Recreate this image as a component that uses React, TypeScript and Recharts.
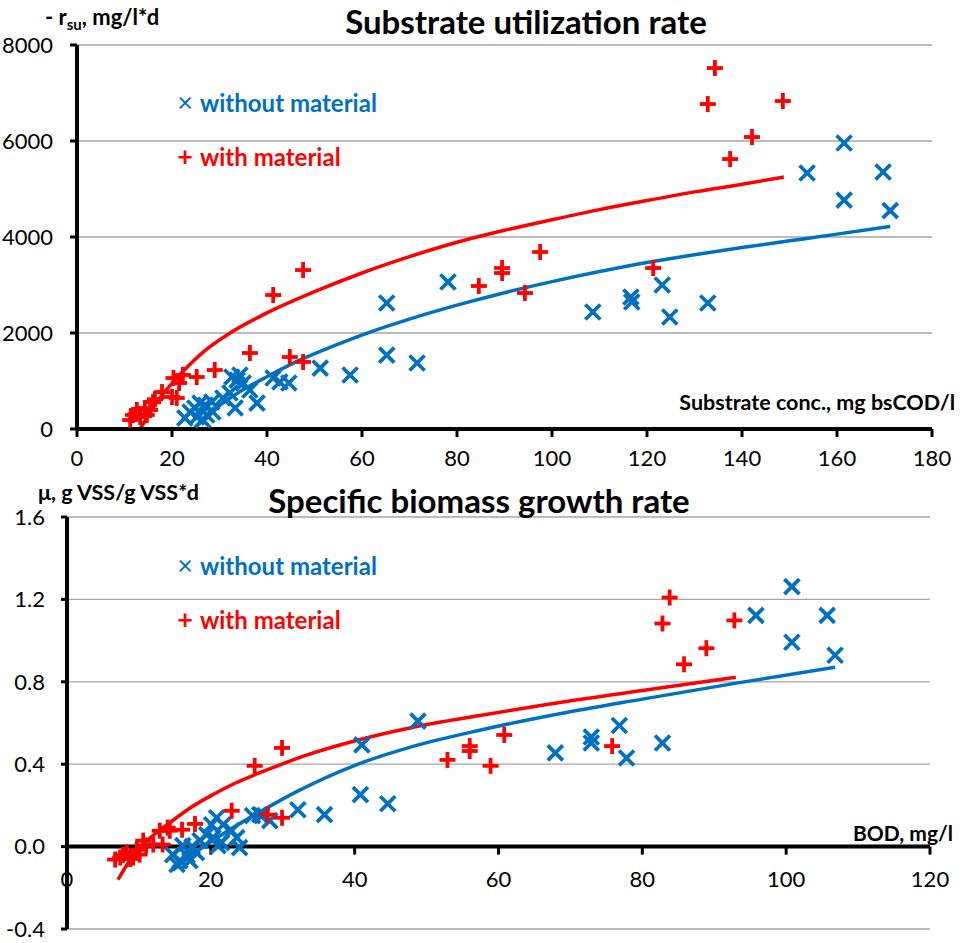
import React from "react";
import {
  ComposedChart,
  Scatter,
  Line,
  XAxis,
  YAxis,
  CartesianGrid,
  ReferenceLine,
  ReferenceDot,
} from "recharts";

const BLUE = "#0070C0";
const RED = "#FF0000";
const FONT = "Lato, 'Open Sans', sans-serif";

// ---- top chart: substrate utilization rate ----
const rsuXTicks = [0, 20, 40, 60, 80, 100, 120, 140, 160, 180];
const rsuYTicks = [0, 2000, 4000, 6000, 8000];

const rsuWithout = [
  { x: 22.7, y: 229 }, { x: 23.8, y: 354 }, { x: 24.8, y: 437 }, { x: 25.2, y: 250 },
  { x: 25.9, y: 541 }, { x: 26.5, y: 187 }, { x: 27, y: 500 }, { x: 27.3, y: 292 },
  { x: 28.4, y: 562 }, { x: 28.6, y: 354 }, { x: 30.7, y: 646 }, { x: 32.2, y: 750 },
  { x: 32.6, y: 1083 }, { x: 33.3, y: 437 }, { x: 33.7, y: 1020 }, { x: 34.3, y: 1125 },
  { x: 35, y: 958 }, { x: 36.4, y: 812 }, { x: 37.9, y: 541 }, { x: 41.3, y: 1062 },
  { x: 42.7, y: 979 }, { x: 44.6, y: 958 }, { x: 51.2, y: 1270 }, { x: 57.5, y: 1125 },
  { x: 65.2, y: 2625 }, { x: 65.2, y: 1541 }, { x: 71.6, y: 1375 }, { x: 78.1, y: 3062 },
  { x: 108.6, y: 2437 }, { x: 116.6, y: 2750 }, { x: 116.8, y: 2646 }, { x: 123.2, y: 3000 },
  { x: 124.8, y: 2333 }, { x: 132.8, y: 2625 }, { x: 153.7, y: 5333 }, { x: 161.5, y: 5958 },
  { x: 161.5, y: 4770 }, { x: 169.7, y: 5354 }, { x: 171.2, y: 4550 },
];

const rsuWith = [
  { x: 11.2, y: 187 }, { x: 11.8, y: 292 }, { x: 12.6, y: 396 }, { x: 13.3, y: 250 },
  { x: 14.3, y: 437 }, { x: 14.7, y: 292 }, { x: 15.4, y: 396 }, { x: 16, y: 560 },
  { x: 16.4, y: 620 }, { x: 17.9, y: 770 }, { x: 20, y: 667 }, { x: 21, y: 646 },
  { x: 20.3, y: 1062 }, { x: 21.5, y: 958 }, { x: 22.3, y: 1125 }, { x: 25.2, y: 1083 },
  { x: 29, y: 1229 }, { x: 36.4, y: 1583 }, { x: 41.3, y: 2791 }, { x: 44.8, y: 1500 },
  { x: 47.6, y: 1396 }, { x: 47.6, y: 3312 }, { x: 84.6, y: 2979 }, { x: 89.5, y: 3354 },
  { x: 89.5, y: 3250 }, { x: 94.3, y: 2833 }, { x: 97.5, y: 3687 }, { x: 121.3, y: 3354 },
  { x: 132.8, y: 6770 }, { x: 134.3, y: 7520 }, { x: 137.5, y: 5624 }, { x: 142.1, y: 6083 },
  { x: 148.6, y: 6833 },
];

const rsuFitWith = [
  { x: 13.3, y: 0 }, { x: 16.8, y: 560 }, { x: 20, y: 950 }, { x: 22.3, y: 1200 },
  { x: 27, y: 1640 }, { x: 32.2, y: 2000 }, { x: 40, y: 2420 }, { x: 50, y: 2860 },
  { x: 60, y: 3250 }, { x: 70, y: 3590 }, { x: 80, y: 3890 }, { x: 90, y: 4140 },
  { x: 100, y: 4360 }, { x: 110, y: 4570 }, { x: 120, y: 4760 }, { x: 130, y: 4940 },
  { x: 140, y: 5100 }, { x: 148.8, y: 5250 },
];

const rsuFitWithout = [
  { x: 24.5, y: 0 }, { x: 28, y: 330 }, { x: 32.9, y: 690 }, { x: 40, y: 1090 },
  { x: 47, y: 1440 }, { x: 55, y: 1770 }, { x: 61.7, y: 2020 }, { x: 70, y: 2290 },
  { x: 80, y: 2580 }, { x: 90, y: 2840 }, { x: 100, y: 3070 }, { x: 110, y: 3280 },
  { x: 120, y: 3470 }, { x: 130, y: 3630 }, { x: 140, y: 3780 }, { x: 150, y: 3920 },
  { x: 160, y: 4060 }, { x: 171.2, y: 4220 },
];

// ---- bottom chart: specific biomass growth rate ----
const muXTicks = [0, 20, 40, 60, 80, 100, 120];
const muYTicks = [-0.4, 0, 0.4, 0.8, 1.2, 1.6];

const muWithout = [
  { x: 14.7, y: -0.039 }, { x: 15.3, y: -0.087 }, { x: 15.7, y: -0.068 }, { x: 16.1, y: 0.005 },
  { x: 16.7, y: -0.044 }, { x: 17.1, y: -0.068 }, { x: 17.4, y: 0 }, { x: 18, y: -0.029 },
  { x: 18.5, y: 0.029 }, { x: 19.4, y: 0.058 }, { x: 20.1, y: 0.106 }, { x: 20.3, y: 0.044 },
  { x: 20.8, y: 0.14 }, { x: 21, y: 0.005 }, { x: 21.5, y: 0.019 }, { x: 21.7, y: 0.106 },
  { x: 22.9, y: 0.077 }, { x: 23.6, y: 0.044 }, { x: 24, y: -0.005 }, { x: 25.8, y: 0.15 },
  { x: 26.8, y: 0.155 }, { x: 27.1, y: 0.15 }, { x: 28.2, y: 0.126 }, { x: 32.1, y: 0.179 },
  { x: 35.8, y: 0.155 }, { x: 40.8, y: 0.252 }, { x: 41, y: 0.494 }, { x: 44.6, y: 0.208 },
  { x: 48.8, y: 0.609 }, { x: 67.9, y: 0.455 }, { x: 72.9, y: 0.503 }, { x: 72.9, y: 0.532 },
  { x: 76.8, y: 0.588 }, { x: 77.8, y: 0.43 }, { x: 82.8, y: 0.503 }, { x: 95.8, y: 1.122 },
  { x: 100.8, y: 1.262 }, { x: 100.8, y: 0.992 }, { x: 105.7, y: 1.122 }, { x: 106.8, y: 0.929 },
];

const muWith = [
  { x: 6.7, y: -0.063 }, { x: 7.4, y: -0.053 }, { x: 7.8, y: -0.04 }, { x: 8.3, y: -0.029 },
  { x: 8.8, y: -0.06 }, { x: 9.2, y: -0.053 }, { x: 9.7, y: -0.015 }, { x: 10.1, y: -0.039 },
  { x: 10.6, y: 0.029 }, { x: 11, y: 0.005 }, { x: 12, y: 0.01 }, { x: 12.9, y: 0.077 },
  { x: 13.3, y: 0.01 }, { x: 14, y: 0.092 }, { x: 14.3, y: 0.077 }, { x: 16, y: 0.082 },
  { x: 17.8, y: 0.11 }, { x: 22.9, y: 0.174 }, { x: 26.1, y: 0.392 }, { x: 27.9, y: 0.155 },
  { x: 29.9, y: 0.14 }, { x: 29.9, y: 0.479 }, { x: 52.9, y: 0.421 }, { x: 56, y: 0.488 },
  { x: 56, y: 0.464 }, { x: 58.9, y: 0.392 }, { x: 60.8, y: 0.542 }, { x: 75.8, y: 0.488 },
  { x: 82.8, y: 1.083 }, { x: 83.8, y: 1.209 }, { x: 85.8, y: 0.885 }, { x: 88.9, y: 0.963 },
  { x: 92.8, y: 1.098 },
];

const muFitWith = [
  { x: 7.1, y: -0.16 }, { x: 8.5, y: -0.08 }, { x: 10.1, y: -0.005 }, { x: 12, y: 0.055 },
  { x: 14.3, y: 0.116 }, { x: 17, y: 0.185 }, { x: 19.9, y: 0.245 }, { x: 23.5, y: 0.31 },
  { x: 27.8, y: 0.372 }, { x: 33, y: 0.44 }, { x: 39.7, y: 0.51 }, { x: 48, y: 0.578 },
  { x: 57.4, y: 0.636 }, { x: 68.5, y: 0.7 }, { x: 80, y: 0.758 }, { x: 93, y: 0.822 },
];

const muFitWithout = [
  { x: 14.7, y: -0.116 }, { x: 17, y: -0.05 }, { x: 20.3, y: 0.03 }, { x: 23, y: 0.09 },
  { x: 26.4, y: 0.16 }, { x: 32, y: 0.268 }, { x: 39.7, y: 0.39 }, { x: 48, y: 0.485 },
  { x: 57.4, y: 0.565 }, { x: 68.5, y: 0.645 }, { x: 80, y: 0.716 }, { x: 93.5, y: 0.796 },
  { x: 106.8, y: 0.871 },
];

function CrossMark(props: any) {
  const { cx, cy } = props;
  const s = 7.5;
  return (
    <g stroke={BLUE} strokeWidth={3.8}>
      <line x1={cx - s} y1={cy - s} x2={cx + s} y2={cy + s} />
      <line x1={cx - s} y1={cy + s} x2={cx + s} y2={cy - s} />
    </g>
  );
}

function PlusMark(props: any) {
  const { cx, cy } = props;
  const s = 8;
  return (
    <g stroke={RED} strokeWidth={3.8}>
      <line x1={cx - s} y1={cy} x2={cx + s} y2={cy} />
      <line x1={cx} y1={cy - s} x2={cx} y2={cy + s} />
    </g>
  );
}

const tickStyle = { fill: "#000", fontSize: 22, fontFamily: FONT };
const axisLine = { stroke: "#000", strokeWidth: 4 };
const tickLine = { stroke: "#000", strokeWidth: 3 };

// x-axis ticks for the bottom chart sit on y = 0
function ZeroAxisTick(label: string) {
  return (props: any) => (
    <g>
      <line x1={props.cx} y1={props.cy} x2={props.cx} y2={props.cy + 8} stroke="#000" strokeWidth={3} />
      <text x={props.cx} y={props.cy + 40} textAnchor="middle" fontSize={22} fontFamily={FONT} fill="#000">
        {label}
      </text>
    </g>
  );
}

function Legend2({ y }: { y: number }) {
  return (
    <g fontFamily={FONT} fontWeight="bold" fontSize={24}>
      <text x={185} y={y} textAnchor="middle" fill={BLUE} fontWeight="normal" fontSize={27}>×</text>
      <text x={200} y={y} fill={BLUE}>without material</text>
      <text x={185} y={y + 54} textAnchor="middle" fill={RED} fontSize={27}>+</text>
      <text x={200} y={y + 54} fill={RED}>with material</text>
    </g>
  );
}

export default function App() {
  return (
    <div style={{ position: "absolute", left: 0, top: 0, width: 963, height: 943, background: "#fff", overflow: "hidden" }}>
      <div style={{ position: "absolute", left: 0, top: 0 }}>
        <ComposedChart width={963} height={470} margin={{ top: 45, right: 31, bottom: 11, left: 0 }}>
          <CartesianGrid vertical={false} stroke="#a6a6a6" strokeWidth={1.3} />
          <XAxis
            type="number"
            dataKey="x"
            domain={[0, 180]}
            ticks={rsuXTicks}
            height={30}
            tickSize={8}
            tickMargin={13}
            tick={tickStyle}
            axisLine={axisLine}
            tickLine={tickLine}
            interval={0}
          />
          <YAxis
            type="number"
            dataKey="y"
            domain={[0, 8000]}
            ticks={rsuYTicks}
            width={77}
            tickSize={7}
            tickMargin={17}
            tick={tickStyle}
            axisLine={axisLine}
            tickLine={tickLine}
            interval={0}
          />
          <Line data={rsuFitWith} dataKey="y" type="monotone" stroke={RED} strokeWidth={3.5} dot={false} isAnimationActive={false} />
          <Line data={rsuFitWithout} dataKey="y" type="monotone" stroke={BLUE} strokeWidth={3.5} dot={false} isAnimationActive={false} />
          <Scatter data={rsuWithout} shape={CrossMark} isAnimationActive={false} />
          <Scatter data={rsuWith} shape={PlusMark} isAnimationActive={false} />
        </ComposedChart>
      </div>
      <div style={{ position: "absolute", left: 0, top: 470 }}>
        <ComposedChart width={963} height={473} margin={{ top: 47, right: 33, bottom: 14, left: 0 }}>
          <CartesianGrid vertical={false} stroke="#a6a6a6" strokeWidth={1.3} />
          <XAxis type="number" dataKey="x" domain={[0, 120]} ticks={muXTicks} hide />
          <YAxis
            type="number"
            dataKey="y"
            domain={[-0.4, 1.6]}
            ticks={muYTicks}
            width={67}
            tickSize={6}
            tickMargin={16}
            tick={tickStyle}
            axisLine={axisLine}
            tickLine={tickLine}
            interval={0}
            tickFormatter={(v: number) => v.toFixed(1)}
          />
          <ReferenceLine y={0} stroke="#000" strokeWidth={4} />
          {muXTicks.map((t) => (
            <ReferenceDot key={t} x={t} y={0} r={0} shape={ZeroAxisTick(String(t))} />
          ))}
          <Line data={muFitWith} dataKey="y" type="monotone" stroke={RED} strokeWidth={3.5} dot={false} isAnimationActive={false} />
          <Line data={muFitWithout} dataKey="y" type="monotone" stroke={BLUE} strokeWidth={3.5} dot={false} isAnimationActive={false} />
          <Scatter data={muWithout} shape={CrossMark} isAnimationActive={false} />
          <Scatter data={muWith} shape={PlusMark} isAnimationActive={false} />
        </ComposedChart>
      </div>
      <svg width={963} height={943} style={{ position: "absolute", left: 0, top: 0, pointerEvents: "none" }}>
        <g fontFamily={FONT} fontWeight="bold" fill="#000">
          <text x={45} y={25} fontSize={22}>
            - r<tspan fontSize={15} dy={5}>su</tspan><tspan dy={-5}>, mg/l*d</tspan>
          </text>
          <text x={526} y={34} fontSize={33} textAnchor="middle">Substrate utilization rate</text>
          <text x={955} y={410} fontSize={21.5} textAnchor="end">Substrate conc., mg bsCOD/l</text>
          <text x={38} y={500} fontSize={21.5}>μ, g VSS/g VSS*d</text>
          <text x={479} y={513} fontSize={33} textAnchor="middle">Specific biomass growth rate</text>
          <text x={953} y={841} fontSize={21} textAnchor="end">BOD, mg/l</text>
        </g>
        <Legend2 y={112} />
        <Legend2 y={575} />
      </svg>
    </div>
  );
}
